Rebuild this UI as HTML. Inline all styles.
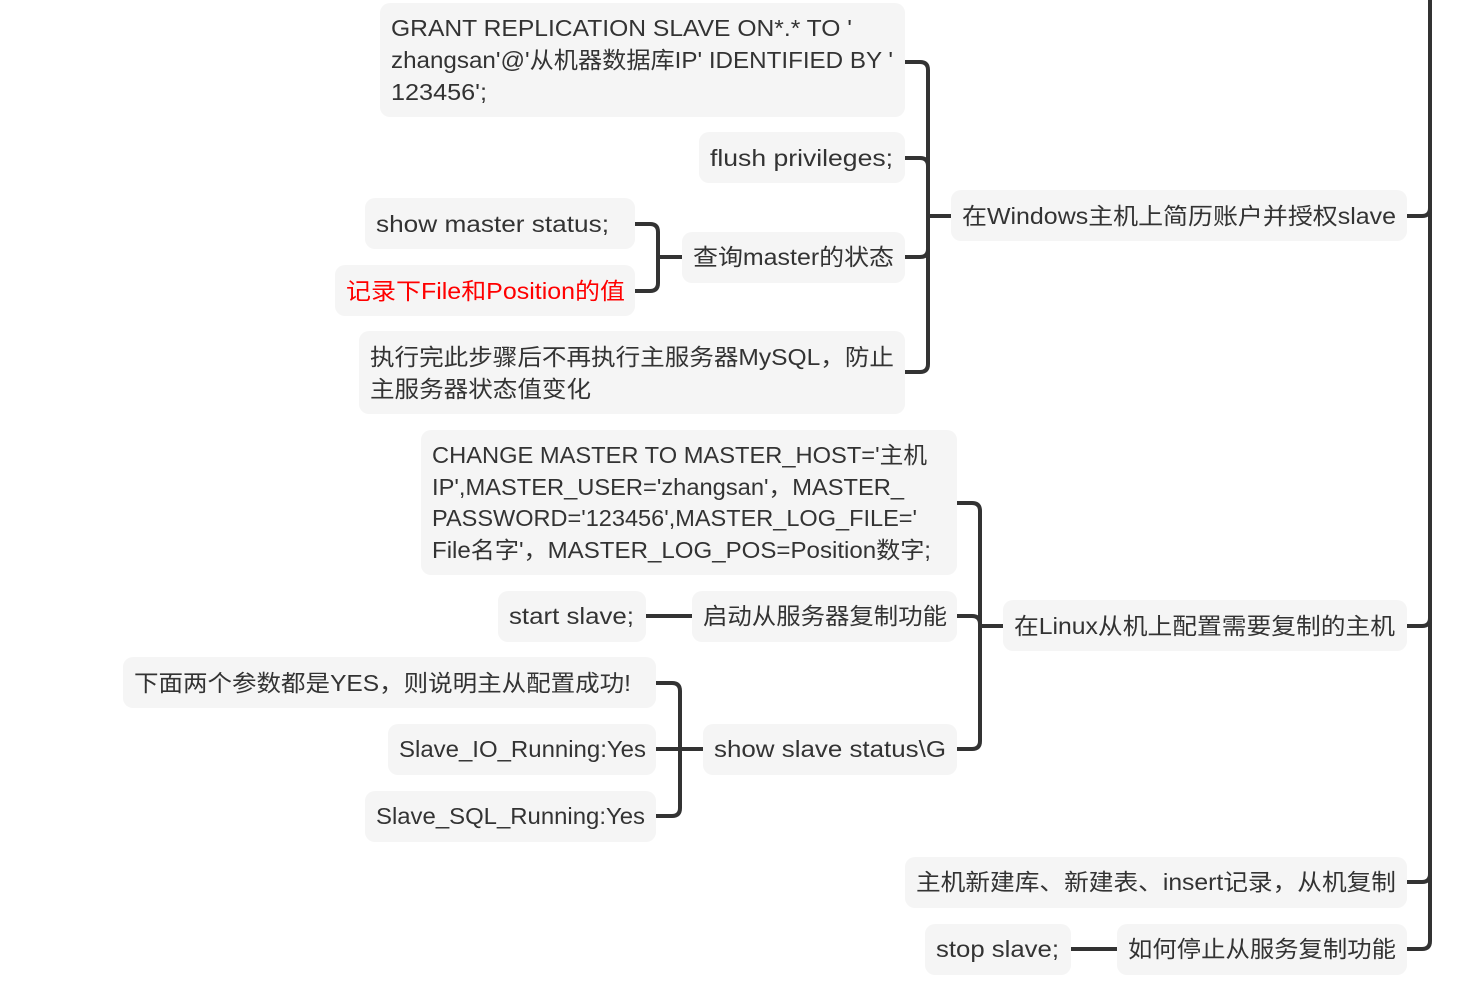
<!DOCTYPE html>
<html><head><meta charset="utf-8"><style>
html,body{margin:0;padding:0;background:#fff;width:1481px;height:994px;overflow:hidden}
svg text{font-family:"Liberation Sans","Noto Sans CJK SC",sans-serif;font-size:23px;fill:#333;dominant-baseline:central}
</style></head><body>
<svg width="1481" height="994" xmlns="http://www.w3.org/2000/svg">
<g fill="#f5f5f5">
<rect x="380" y="3" width="525" height="114" rx="10"/>
<rect x="699" y="132" width="206" height="51" rx="10"/>
<rect x="365" y="198" width="270" height="51" rx="10"/>
<rect x="335" y="265" width="300" height="51" rx="10"/>
<rect x="682" y="232" width="223" height="51" rx="10"/>
<rect x="359" y="331" width="546" height="83" rx="10"/>
<rect x="951" y="190" width="456" height="51" rx="10"/>
<rect x="421" y="430" width="536" height="145" rx="10"/>
<rect x="498" y="591" width="148" height="51" rx="10"/>
<rect x="692" y="591" width="265" height="51" rx="10"/>
<rect x="1003" y="600" width="404" height="51" rx="10"/>
<rect x="123" y="657" width="533" height="51" rx="10"/>
<rect x="388" y="724" width="268" height="51" rx="10"/>
<rect x="365" y="791" width="291" height="51" rx="10"/>
<rect x="703" y="724" width="254" height="51" rx="10"/>
<rect x="905" y="857" width="502" height="51" rx="10"/>
<rect x="925" y="924" width="146" height="51" rx="10"/>
<rect x="1117" y="924" width="290" height="51" rx="10"/>
</g>
<g fill="none" stroke="#333" stroke-width="4" stroke-linecap="butt">
<path d="M1430 0 V941 Q1430 949 1422 949 H1407"/>
<path d="M1407 216 H1422 Q1430 216 1430 208"/>
<path d="M1407 626 H1422 Q1430 626 1430 618"/>
<path d="M1407 882 H1422 Q1430 882 1430 874"/>
<path d="M905 62 H920 Q928 62 928 70 V364 Q928 372 920 372 H905"/>
<path d="M905 158 H920 Q928 158 928 166"/>
<path d="M905 257 H920 Q928 257 928 249"/>
<path d="M928 216 H951"/>
<path d="M635 224 H650 Q658 224 658 232 V283 Q658 291 650 291 H635"/>
<path d="M658 257 H682"/>
<path d="M957 503 H972 Q980 503 980 511 V741 Q980 749 972 749 H957"/>
<path d="M957 616 H972 Q980 616 980 624"/>
<path d="M980 626 H1003"/>
<path d="M646 616 H692"/>
<path d="M656 683 H672 Q680 683 680 691 V808 Q680 816 672 816 H656"/>
<path d="M656 749 H703"/>
<path d="M1071 949 H1117"/>
</g>
<g>
<text x="391" y="28" textLength="461" lengthAdjust="spacingAndGlyphs">GRANT REPLICATION SLAVE  ON*.* TO '</text>
<text x="391" y="60" textLength="502" lengthAdjust="spacingAndGlyphs">zhangsan'@'从机器数据库IP' IDENTIFIED BY '</text>
<text x="391" y="92" textLength="96" lengthAdjust="spacingAndGlyphs">123456';</text>
<text x="710" y="158" textLength="183" lengthAdjust="spacingAndGlyphs">flush privileges;</text>
<text x="376" y="224" textLength="233" lengthAdjust="spacingAndGlyphs">show master status;</text>
<text x="346" y="291" textLength="279" lengthAdjust="spacingAndGlyphs" style="fill:#f00">记录下File和Position的值</text>
<text x="693" y="257" textLength="201" lengthAdjust="spacingAndGlyphs">查询master的状态</text>
<text x="370" y="357" textLength="524" lengthAdjust="spacingAndGlyphs">执行完此步骤后不再执行主服务器MySQL，防止</text>
<text x="370" y="389" textLength="221" lengthAdjust="spacingAndGlyphs">主服务器状态值变化</text>
<text x="962" y="216" textLength="434" lengthAdjust="spacingAndGlyphs">在Windows主机上简历账户并授权slave</text>
<text x="432" y="455" textLength="495" lengthAdjust="spacingAndGlyphs">CHANGE MASTER TO MASTER_HOST='主机</text>
<text x="432" y="487" textLength="472" lengthAdjust="spacingAndGlyphs">IP',MASTER_USER='zhangsan'，MASTER_</text>
<text x="432" y="518" textLength="485" lengthAdjust="spacingAndGlyphs">PASSWORD='123456',MASTER_LOG_FILE='</text>
<text x="432" y="550" textLength="499" lengthAdjust="spacingAndGlyphs">File名字'，MASTER_LOG_POS=Position数字;</text>
<text x="509" y="616" textLength="125" lengthAdjust="spacingAndGlyphs">start slave;</text>
<text x="703" y="616" textLength="244" lengthAdjust="spacingAndGlyphs">启动从服务器复制功能</text>
<text x="1014" y="626" textLength="381" lengthAdjust="spacingAndGlyphs">在Linux从机上配置需要复制的主机</text>
<text x="134" y="683" textLength="497" lengthAdjust="spacingAndGlyphs">下面两个参数都是YES，则说明主从配置成功!</text>
<text x="399" y="749" textLength="247" lengthAdjust="spacingAndGlyphs">Slave_IO_Running:Yes</text>
<text x="376" y="816" textLength="269" lengthAdjust="spacingAndGlyphs">Slave_SQL_Running:Yes</text>
<text x="714" y="749" textLength="232" lengthAdjust="spacingAndGlyphs">show slave status\G</text>
<text x="916" y="882" textLength="480" lengthAdjust="spacingAndGlyphs">主机新建库、新建表、insert记录，从机复制</text>
<text x="936" y="949" textLength="123" lengthAdjust="spacingAndGlyphs">stop slave;</text>
<text x="1128" y="949" textLength="268" lengthAdjust="spacingAndGlyphs">如何停止从服务复制功能</text>
</g>
</svg>
</body></html>
